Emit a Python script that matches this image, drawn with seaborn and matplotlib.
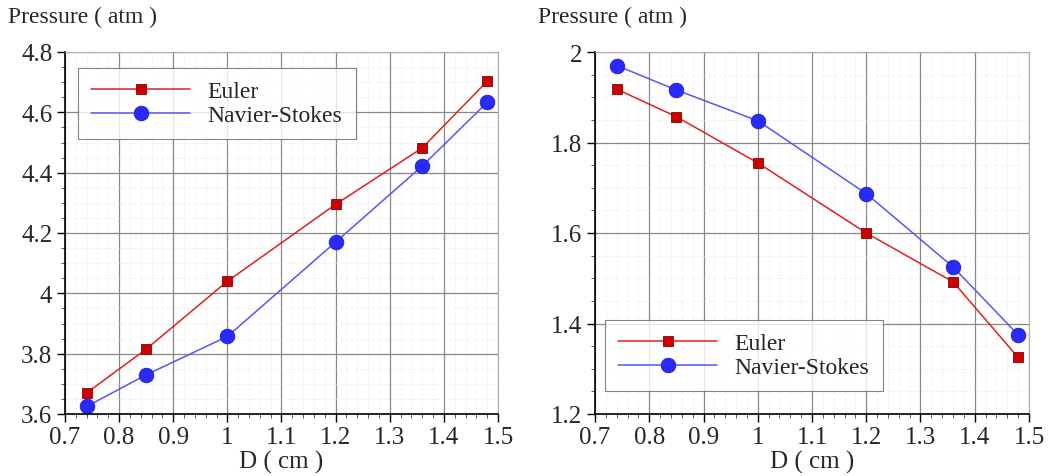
import numpy as np
import pandas as pd
import seaborn as sns
import matplotlib.pyplot as plt
from matplotlib.ticker import MultipleLocator

d_cm = [0.74, 0.85, 1.0, 1.2, 1.36, 1.48]
left_euler = [3.67, 3.815, 4.04, 4.295, 4.482, 4.703]
left_ns = [3.625, 3.73, 3.857, 4.17, 4.422, 4.633]
right_euler = [1.918, 1.857, 1.755, 1.600, 1.492, 1.325]
right_ns = [1.970, 1.916, 1.848, 1.687, 1.525, 1.375]

sns.set_style("white")
plt.rcParams['font.family'] = ['Liberation Serif', 'DejaVu Serif']

fig = plt.figure(figsize=(10.58, 4.77), dpi=100)
ax1 = fig.add_axes([65 / 1058, 62 / 477, 433 / 1058, 362 / 477])
ax2 = fig.add_axes([595 / 1058, 62 / 477, 434 / 1058, 362 / 477])


def draw(ax, euler, ns, ylim, ymajor, yminor, leg_loc, leg_anchor, ylabels):
    df_e = pd.DataFrame({"D": d_cm, "P": euler})
    df_n = pd.DataFrame({"D": d_cm, "P": ns})
    sns.lineplot(data=df_e, x="D", y="P", ax=ax, color="#e02020", lw=1.1,
                 marker="s", markersize=7.5, markerfacecolor="#cc0000",
                 markeredgecolor="#8a0000", markeredgewidth=0.6, label="Euler")
    sns.lineplot(data=df_n, x="D", y="P", ax=ax, color="#5555ff", lw=1.1,
                 marker="o", markersize=10.5, markerfacecolor="#2a2aff",
                 markeredgecolor="#1a1acc", markeredgewidth=0.6, label="Navier-Stokes")
    ax.set_xlim(0.7, 1.5)
    ax.set_ylim(*ylim)
    ax.xaxis.set_minor_locator(MultipleLocator(0.02))
    ax.yaxis.set_minor_locator(MultipleLocator(yminor))
    ax.set_xticks(np.arange(0.7, 1.51, 0.1))
    ax.set_xticklabels(["0.7", "0.8", "0.9", "1", "1.1", "1.2", "1.3", "1.4", "1.5"])
    ax.set_yticks(np.arange(ylim[0], ylim[1] + 1e-9, ymajor))
    ax.set_yticklabels(ylabels)
    ax.grid(which="major", color="#888888", lw=0.9)
    ax.grid(which="minor", color="#dddddd", lw=0.5, ls=":")
    ax.tick_params(which="major", direction="out", length=6, width=1, labelsize=18,
                   color="black", left=True, bottom=True, pad=3)
    ax.tick_params(which="minor", direction="out", length=3, width=0.7,
                   color="#555555", left=True, bottom=True)
    for side in ["left", "bottom"]:
        ax.spines[side].set_color("black")
        ax.spines[side].set_linewidth(1.2)
    for side in ["top", "right"]:
        ax.spines[side].set_color("#aaaaaa")
        ax.spines[side].set_linewidth(0.8)
    ax.set_xlabel("D ( cm )", fontsize=18, labelpad=1)
    ax.set_ylabel("")
    leg = ax.legend(loc=leg_loc, bbox_to_anchor=leg_anchor, borderaxespad=0,
                    fontsize=17, frameon=True, fancybox=False,
                    edgecolor="#666666", handlelength=4.2, borderpad=0.55,
                    handletextpad=0.75, labelspacing=0.08)
    leg.get_frame().set_linewidth(0.8)


draw(ax1, left_euler, left_ns, (3.6, 4.8), 0.2, 0.05, "upper left", (0.03, 0.956),
     ["3.6", "3.8", "4", "4.2", "4.4", "4.6", "4.8"])
draw(ax2, right_euler, right_ns, (1.2, 2.0), 0.2, 0.05, "lower left", (0.023, 0.064),
     ["1.2", "1.4", "1.6", "1.8", "2"])

fig.text(8 / 1058, 1 - 17 / 477, "Pressure ( atm )", fontsize=17, va="center", ha="left")
fig.text(538 / 1058, 1 - 17 / 477, "Pressure ( atm )", fontsize=17, va="center", ha="left")

fig.savefig("out.png", dpi=100)
